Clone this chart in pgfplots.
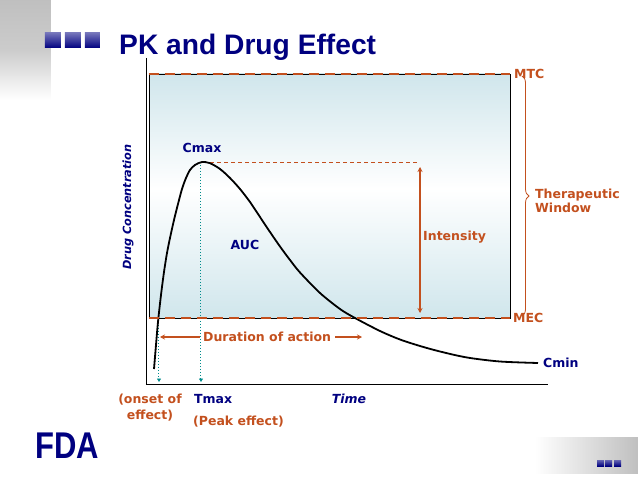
\documentclass[border=0pt]{standalone}
\usepackage{fontspec}
\setmainfont{DejaVu Sans}
\newfontfamily\arialfont{Liberation Sans}
\usepackage{pgfplots}
\pgfplotsset{compat=1.18}
\usetikzlibrary{decorations.pathreplacing,arrows.meta}
\definecolor{navy}{RGB}{0,0,128}
\definecolor{rust}{RGB}{195,80,30}
\definecolor{teal2}{RGB}{0,140,140}
\definecolor{boxblue}{RGB}{208,230,236}
\newcommand\lbl{\fontsize{12.5bp}{15bp}\selectfont\bfseries}
\begin{document}
\begin{tikzpicture}
\begin{axis}[
  width=402bp, height=326bp, scale only axis,
  xmin=146, xmax=548, ymin=95, ymax=421,
  axis lines=left, axis line style={-, line width=0.8bp, black},
  xtick=\empty, ytick=\empty, clip=false,
]
% bounding box of the slide
\path (axis cs:0,0) rectangle (axis cs:638,479);
% decorative gradients
\fill[top color=gray!50, bottom color=white, middle color=gray!40] (axis cs:0,479) rectangle (axis cs:51,379);
\fill[left color=white, right color=gray!50] (axis cs:535,42) rectangle (axis cs:638,6);
\fill[top color=navy!55, bottom color=navy] (axis cs:45,446) rectangle (axis cs:61,431);
\fill[top color=navy!55, bottom color=navy] (axis cs:65,446) rectangle (axis cs:81,431);
\fill[top color=navy!55, bottom color=navy] (axis cs:85,446) rectangle (axis cs:100,431);
\fill[top color=navy!60, bottom color=navy] (axis cs:597,19) rectangle (axis cs:604,13);
\fill[top color=navy!60, bottom color=navy] (axis cs:605,19) rectangle (axis cs:612,13);
\fill[top color=navy!60, bottom color=navy] (axis cs:614,19) rectangle (axis cs:621,13);
% therapeutic window box (gradient fill)
\fill[top color=boxblue, bottom color=white] (axis cs:149,405) rectangle (axis cs:510,290);
\fill[top color=white, bottom color=boxblue] (axis cs:149,290.5) rectangle (axis cs:510,161);
\addplot[draw=black, line width=0.6bp]
  coordinates {(149,161) (510,161) (510,405) (149,405) (149,161)};
% Cmax dashed line
\addplot[rust, line width=0.7bp, dash pattern=on 4bp off 3bp] coordinates {(203,317) (418,317)};
% intensity arrow
\addplot[rust, line width=1.5bp, {Stealth[length=5bp,width=5bp]}-{Stealth[length=5bp,width=5bp]}] coordinates {(420,312) (420,166)};
% teal dotted lines
\addplot[teal2, line width=1bp, dash pattern=on 1.5bp off 1.5bp, -{Triangle[length=3.5bp,width=4bp]}] coordinates {(159,157) (159,97)};
\addplot[teal2, line width=1bp, dash pattern=on 1.5bp off 1.5bp, -{Triangle[length=3.5bp,width=4bp]}] coordinates {(201,317) (201,97)};
% concentration curve
\addplot[black, line width=1.8bp, smooth, tension=0.5] coordinates {
 (154,110) (156,134) (158,157) (161,184) (164,207) (167,226) (170,241)
 (174,259) (178,275) (182,290) (186,301) (190,309) (195,314) (202,317)
 (210,315.8) (220,310) (230,301) (240,290) (250,277) (260,262) (270,247)
 (280,232.5) (290,219) (300,206.5) (320,186) (340,170) (355,161)
 (380,148) (400,139.5) (420,133) (440,127.5) (467,121.5) (500,117.5) (538,116)};
% MTC / MEC dashed lines
\addplot[rust, line width=2.6bp, dash pattern=on 10bp off 6bp] coordinates {(149,405) (510,405)};
\addplot[rust, line width=2.6bp, dash pattern=on 10bp off 6bp] coordinates {(149,161) (510,161)};
% duration of action arrows
\addplot[rust, line width=1.5bp, -{Stealth[length=5bp,width=5bp]}] coordinates {(200,142) (160,142)};
\addplot[rust, line width=1.5bp, -{Stealth[length=5bp,width=5bp]}] coordinates {(335,142) (362,142)};
% brace
\draw[rust, line width=0.8bp, decorate, decoration={brace, amplitude=7bp}] (axis cs:522,403) -- (axis cs:522,163);
% texts
\node[anchor=base west, text=navy, font=\arialfont\fontsize{28.2bp}{30bp}\selectfont\bfseries, inner sep=0pt] at (axis cs:119,424) {PK and Drug Effect};
\node[text=navy, font=\lbl, inner sep=0pt] at (axis cs:202,331) {Cmax};
\node[text=navy, font=\lbl, inner sep=0pt] at (axis cs:245,234) {AUC};
\node[anchor=west, text=rust, font=\lbl, inner sep=0pt] at (axis cs:423,242) {Intensity};
\node[anchor=west, text=rust, font=\lbl, inner sep=0pt] at (axis cs:203,142) {Duration of action};
\node[anchor=west, text=rust, font=\lbl, inner sep=0pt] at (axis cs:514,405) {MTC};
\node[anchor=west, text=rust, font=\lbl, inner sep=0pt] at (axis cs:513,161) {MEC};
\node[anchor=west, text=rust, font=\lbl, inner sep=0pt, align=left] at (axis cs:535,278) {Therapeutic\\[-0.5bp]Window};
\node[anchor=west, text=navy, font=\lbl, inner sep=0pt] at (axis cs:543,116) {Cmin};
\node[text=navy, font=\lbl\itshape, inner sep=0pt] at (axis cs:349,80) {Time};
\node[anchor=west, text=navy, font=\lbl, inner sep=0pt] at (axis cs:194,80) {Tmax};
\node[anchor=west, text=rust, font=\lbl, inner sep=0pt] at (axis cs:193,57) {(Peak effect)};
\node[text=rust, font=\lbl, inner sep=0pt, align=center] at (axis cs:150,71) {(onset of\\[1bp]effect)};
\node[rotate=90, text=navy, font=\fontsize{11.3bp}{13bp}\selectfont\bfseries\itshape, inner sep=0pt] at (axis cs:128,272) {Drug Concentration};
\node[text=navy, font=\arialfont\fontsize{31bp}{32bp}\selectfont\bfseries, inner sep=0pt, yscale=1.2] at (axis cs:67,33) {FDA};
\end{axis}
\end{tikzpicture}
\end{document}
